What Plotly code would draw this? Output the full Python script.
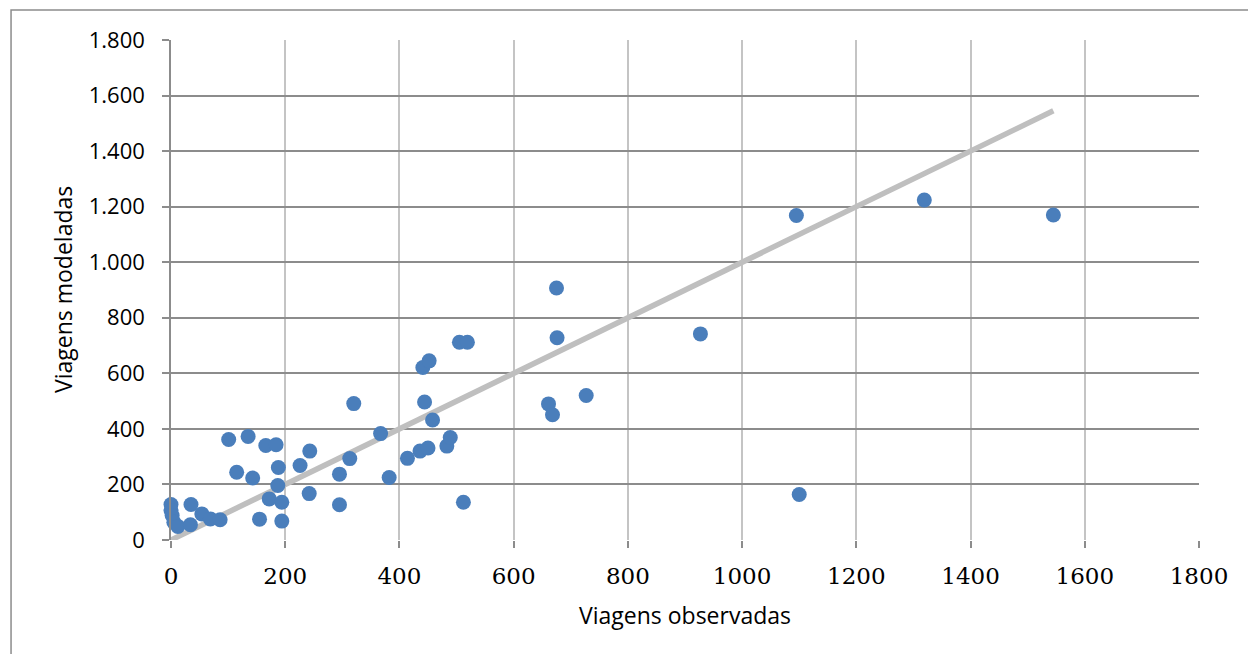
import plotly.graph_objects as go

# Data
viagens_observadas = [0, 0, 2, 5, 12, 35, 34, 54, 69, 86, 101, 135, 115, 143, 155, 166, 184, 188,
                      187, 172, 194, 194, 226, 243, 242, 295, 295, 313, 320, 367, 382, 414, 436,
                      450, 483, 489, 444, 458, 441, 452, 505, 519, 512, 661, 668, 675, 676, 727,
                      927, 1095, 1100, 1319, 1545]
viagens_modeladas = [128, 106, 88, 64, 49, 128, 55, 94, 76, 73, 362, 373, 244, 223, 75, 340, 343,
                     261, 196, 148, 136, 68, 268, 320, 167, 237, 127, 293, 491, 383, 225, 294, 320,
                     331, 338, 369, 497, 432, 621, 645, 712, 712, 136, 490, 451, 907, 728, 520,
                     742, 1168, 164, 1224, 1170]

linha_x = [0, 1545]
linha_y = [0, 1545]

x_ticks = [0, 200, 400, 600, 800, 1000, 1200, 1400, 1600, 1800]
y_ticks = [0, 200, 400, 600, 800, 1000, 1200, 1400, 1600, 1800]

fig = go.Figure()

fig.add_trace(go.Scatter(
    x=linha_x, y=linha_y, mode="lines",
    line=dict(color="#bfbfbf", width=5.5),
    hoverinfo="skip", showlegend=False,
))

fig.add_trace(go.Scatter(
    x=viagens_observadas, y=viagens_modeladas, mode="markers",
    marker=dict(color="#4a7ebb", size=15, line=dict(width=0)),
    cliponaxis=False, showlegend=False,
))

fig.update_layout(
    width=1248, height=654,
    margin=dict(l=171, r=49, t=40, b=114),
    paper_bgcolor="white", plot_bgcolor="white",
    separators=",.",
    showlegend=False,
)

fig.update_xaxes(
    range=[0, 1800], tickvals=x_ticks, tickformat="d",
    showgrid=True, gridcolor="#c4c4c4", gridwidth=1.5,
    zeroline=False,
    showline=False,
    ticks="outside", ticklen=7, tickcolor="#8c8c8c", tickwidth=1.5,
    tickfont=dict(family="DejaVu Serif", size=23, color="#000000"),
    ticklabelstandoff=8,
    mirror=False,
)
fig.update_yaxes(
    range=[0, 1800], tickvals=y_ticks, tickformat=",d",
    showgrid=True, gridcolor="#8c8c8c", gridwidth=1.5,
    zeroline=False,
    showline=True, linecolor="#8c8c8c", linewidth=1.5,
    ticks="outside", ticklen=7, tickcolor="#8c8c8c", tickwidth=1.5,
    tickfont=dict(family="Open Sans", size=22, color="#000000"),
    ticklabelstandoff=13,
)

fig.add_annotation(
    text="Viagens observadas", xref="paper", yref="paper", x=0.5, y=0,
    xanchor="center", yanchor="middle", yshift=-75, showarrow=False,
    font=dict(family="Open Sans", size=23, color="#000000"),
)
fig.add_annotation(
    text="Viagens modeladas", xref="paper", yref="paper", x=0, y=0.5,
    xanchor="center", yanchor="middle", xshift=-108, textangle=-90, showarrow=False,
    font=dict(family="Open Sans", size=23, color="#000000"),
)

# outer chart border
fig.add_shape(
    type="rect", xref="paper", yref="paper",
    x0=-0.1556, x1=1.06, y0=-0.24, y1=1.06,
    line=dict(color="#8c8c8c", width=1.5), layer="below",
)

fig.write_html("out.html")
